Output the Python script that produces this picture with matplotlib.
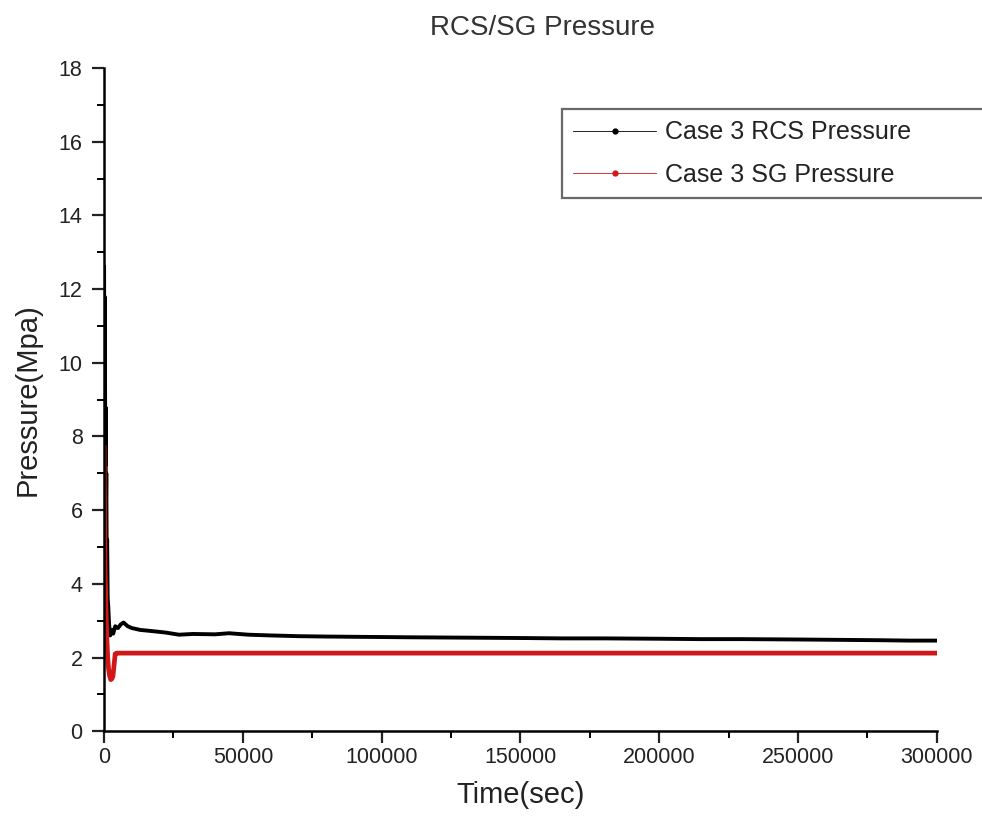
import matplotlib
matplotlib.use('Agg')
import matplotlib.pyplot as plt
from matplotlib.ticker import MultipleLocator

plt.rcParams['font.family'] = ['Liberation Sans', 'DejaVu Sans']

# RCS pressure (black)
rcs_time = [0, 80, 160, 240, 320, 420, 520, 650, 800, 950, 1100, 1300, 1500,
            1800, 2200, 2700, 3300, 4000, 5000, 6000, 7000, 8500, 10000,
            13000, 17000, 22000, 27000, 32000, 40000, 45000, 52000, 60000,
            70000, 80000, 95000, 110000, 130000, 150000, 165000, 180000,
            200000, 215000, 230000, 250000, 265000, 280000, 290000, 300000]
rcs_pres = [12.6, 9.5, 11.8, 8.0, 10.4, 7.2, 8.8, 5.8, 7.0, 4.6, 5.2, 3.6, 3.4,
            2.9, 2.6, 2.75, 2.65, 2.85, 2.8, 2.9, 2.95, 2.85, 2.8,
            2.75, 2.72, 2.68, 2.62, 2.64, 2.63, 2.66, 2.62, 2.6,
            2.58, 2.57, 2.56, 2.55, 2.54, 2.53, 2.52, 2.52,
            2.51, 2.50, 2.50, 2.49, 2.48, 2.47, 2.46, 2.46]

# SG pressure (red)
sg_time = [0, 100, 250, 400, 600, 800, 1000, 1300, 1600, 2000, 2400, 2800,
           3200, 3600, 4000, 4500, 10000, 50000, 100000, 150000, 200000,
           250000, 300000]
sg_pres = [7.7, 6.5, 5.0, 4.2, 3.6, 3.0, 2.5, 2.0, 1.7, 1.5, 1.4, 1.42,
           1.5, 1.8, 2.1, 2.12, 2.12, 2.12, 2.12, 2.12, 2.12,
           2.12, 2.12]

fig = plt.figure(figsize=(9.82, 8.3), dpi=100)
ax = fig.add_axes([0.106, 0.119, 0.848, 0.799])

ax.plot(rcs_time, rcs_pres, color='black', lw=2.8,
        label='Case 3 RCS Pressure')
ax.plot(sg_time, sg_pres, color='#d01818', lw=3.4,
        label='Case 3 SG Pressure')

ax.set_xlim(0, 300000)
ax.set_ylim(0, 18)
ax.xaxis.set_major_locator(MultipleLocator(50000))
ax.xaxis.set_minor_locator(MultipleLocator(25000))
ax.yaxis.set_major_locator(MultipleLocator(2))
ax.yaxis.set_minor_locator(MultipleLocator(1))
ax.tick_params(which='major', direction='out', length=8.5, width=1.6,
               labelsize=15.5, pad=7, colors='#222222')
ax.tick_params(axis='x', which='major', pad=3)
ax.tick_params(which='minor', direction='out', length=5, width=1.4)

for side in ['top', 'right']:
    ax.spines[side].set_visible(False)
for side in ['left', 'bottom']:
    ax.spines[side].set_linewidth(1.8)

ax.set_xlabel('Time(sec)', fontsize=21, labelpad=9, color='#222222')
ax.set_ylabel('Pressure(Mpa)', fontsize=21, labelpad=12, color='#222222')
fig.text(0.552, 0.966, 'RCS/SG Pressure', fontsize=20, ha='center',
         va='center', color='#333333')

# legend with thin line + dot, like the original
h1, = ax.plot([], [], color='black', lw=0.6, marker='o', ms=3.5)
h2, = ax.plot([], [], color='#d01818', lw=0.6, marker='o', ms=3.5)
leg = ax.legend([h1, h2], ['Case 3 RCS Pressure', 'Case 3 SG Pressure'],
                loc='upper left', bbox_to_anchor=(0.55, 0.838, 0.6, 0.1),
                mode='expand', fontsize=18, frameon=True, fancybox=False,
                handlelength=3.3, handletextpad=0.35, borderpad=0.45,
                labelspacing=0.75, borderaxespad=0)
leg.get_frame().set_edgecolor('#444444')
leg.get_frame().set_linewidth(1.6)
for t in leg.get_texts():
    t.set_color('#222222')

fig.savefig('out.png', dpi=100)
